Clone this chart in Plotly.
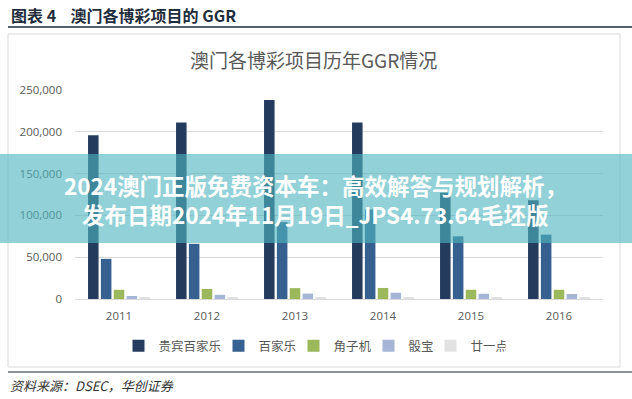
import plotly.graph_objects as go

years = ["2011", "2012", "2013", "2014", "2015", "2016"]
series_names = ["贵宾百家乐", "百家乐", "角子机", "骰宝", "廿一点"]
vip_baccarat = [196000, 211000, 238000, 211000, 127000, 118000]
baccarat = [48000, 66000, 92000, 107000, 75000, 77000]
slots = [11000, 12000, 13000, 13200, 11000, 11000]
sicbo = [3600, 5000, 6500, 7500, 6300, 6000]
blackjack = [2000, 2000, 2200, 2300, 1500, 1500]
y_ticks = [0, 50000, 100000, 150000, 200000, 250000]
y_tick_labels = ["0", "50,000", "100,000", "150,000", "200,000", "250,000"]

colors = ["#253c5f", "#35608f", "#9bb85a", "#a6b5d6", "#e2e2e2"]
legend_widths = [55, 30, 30, 17, 30]
values = [vip_baccarat, baccarat, slots, sicbo, blackjack]

W, H = 632, 399
L, R, T, B = 75, 29, 90, 100
PW, PH = W - L - R, H - T - B


def px(x):
    return (x - L) / PW


def py(y):
    return (H - B - y) / PH


fig = go.Figure()
for name, vals, col, lw in zip(series_names, values, colors, legend_widths):
    fig.add_trace(go.Bar(x=years, y=vals, name=name, legendwidth=lw,
                         marker=dict(color=col, line=dict(width=0))))

cjk = "Noto Sans CJK SC"
fig.update_layout(
    width=W, height=H,
    margin=dict(l=L, r=R, t=T, b=B, autoexpand=False),
    paper_bgcolor="white", plot_bgcolor="white",
    barmode="group", bargap=0.27, bargroupgap=0.18,
    showlegend=True,
    legend=dict(orientation="h", x=px(312), xanchor="center", y=py(346), yanchor="middle",
                font=dict(family=cjk, size=12.5, color="#595959"), itemwidth=30,
                entrywidthmode="pixels", bgcolor="rgba(0,0,0,0)"),
    font=dict(family="Open Sans", color="#595959"),
)
fig.update_xaxes(showgrid=False, showline=True, linecolor="#d9d9d9", linewidth=1,
                 ticks="", tickfont=dict(size=11.5, color="#595959"), ticklabelstandoff=6)
fig.update_yaxes(range=[0, 250000], tickvals=y_ticks, ticktext=y_tick_labels,
                 showgrid=True, gridcolor="#d9d9d9", gridwidth=1, zeroline=False,
                 showline=False, ticks="", tickfont=dict(size=11.5, color="#595959"),
                 ticklabelstandoff=12)

shapes = [
    dict(type="rect", xref="paper", yref="paper", x0=px(8), x1=px(620), y0=py(367), y1=py(34),
         line=dict(color="#d9d9d9", width=1), fillcolor="rgba(0,0,0,0)", layer="below"),
    dict(type="line", xref="paper", yref="paper", x0=px(8), x1=px(632), y0=py(27), y1=py(27),
         line=dict(color="#1f2d3d", width=1.5)),
    dict(type="line", xref="paper", yref="paper", x0=px(8), x1=px(632), y0=py(372), y1=py(372),
         line=dict(color="#1f2d3d", width=1.2)),
    dict(type="rect", xref="paper", yref="paper", x0=px(0), x1=px(632), y0=py(243), y1=py(154),
         line=dict(width=0), fillcolor="rgba(78,180,190,0.62)", layer="above"),
]

annotations = [
    dict(text="<b>图表 4&nbsp;&nbsp;&nbsp;&nbsp;澳门各博彩项目的 GGR</b>", xref="paper", yref="paper",
         x=px(9), y=py(15), xanchor="left", yanchor="middle", showarrow=False,
         font=dict(family=cjk, size=16, color="#1f2d3d")),
    dict(text="澳门各博彩项目历年GGR情况", xref="paper", yref="paper",
         x=px(313), y=py(60), xanchor="center", yanchor="middle", showarrow=False,
         font=dict(family=cjk, size=19, color="#595959")),
    dict(text="<b>2024澳门正版免费资本车：高效解答与规划解析，</b>", xref="paper", yref="paper",
         x=px(315), y=py(185), xanchor="center", yanchor="middle", showarrow=False,
         font=dict(family=cjk, size=22.5, color="white")),
    dict(text="<b>发布日期2024年11月19日_JPS4.73.64毛坯版</b>", xref="paper", yref="paper",
         x=px(315), y=py(214), xanchor="center", yanchor="middle", showarrow=False,
         font=dict(family=cjk, size=22.5, color="white")),
    dict(text="<i>资料来源：DSEC，华创证券</i>", xref="paper", yref="paper",
         x=px(8), y=py(385), xanchor="left", yanchor="middle", showarrow=False,
         font=dict(family=cjk, size=13, color="#333333")),
]
fig.update_layout(shapes=shapes, annotations=annotations)

fig.write_html("out.html", config={"displayModeBar": False},
               post_script="document.body.style.margin='0';document.body.style.overflow='hidden';")
